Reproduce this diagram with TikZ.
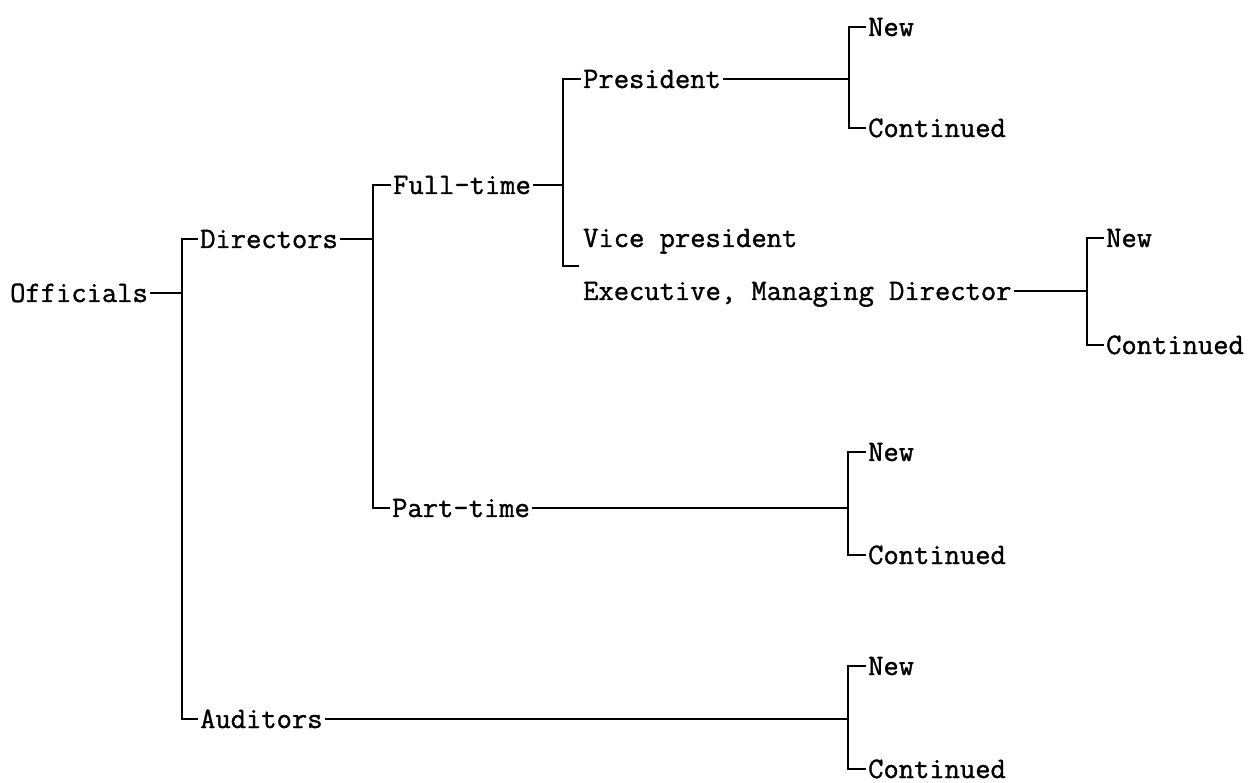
\documentclass[tikz,border=0pt]{standalone}
\usepackage{fontspec}
\newfontfamily\treefont{Latin Modern Mono}[FakeBold=1.2]
\begin{document}
\begin{tikzpicture}[x=1pt, y=-1pt,
  label/.style={anchor=west, inner xsep=2pt, inner ysep=0pt,
    font=\treefont\fontsize{29.7}{30}\selectfont,
    text height=18pt, text depth=0pt},
  link/.style={line width=1.6pt, line cap=butt}]
\useasboundingbox (0,0) rectangle (1251,783);

% labels, left to right
\node[label] (officials) at (8,293) {Officials};
\node[label] (directors) at (198,239) {Directors};
\node[label] (auditors)  at (198,719) {Auditors};
\node[label] (fulltime)  at (391,185) {Full-time};
\node[label] (parttime)  at (390,508) {Part-time};
\node[label] (president) at (581,79)  {President};
\node[label] (vice)      at (581,238) {Vice president};
\node[label] (exec)      at (581,291) {Executive, Managing Director};
\node[label] (newA)  at (866,27)   {New};
\node[label] (contA) at (866,128)  {Continued};
\node[label] (newB)  at (1104,238) {New};
\node[label] (contB) at (1104,345) {Continued};
\node[label] (newC)  at (866,452)  {New};
\node[label] (contC) at (866,555)  {Continued};
\node[label] (newD)  at (866,666)  {New};
\node[label] (contD) at (866,769)  {Continued};

% branching points
\coordinate (jOff)  at (182,293);
\coordinate (jDir)  at (373,239);
\coordinate (jFull) at (563,185);
\coordinate (jFullEnd) at (579,266);
\coordinate (jPres) at (849,79);
\coordinate (jExec) at (1087,291);
\coordinate (jPart) at (848,508);
\coordinate (jAud)  at (848,719);

% brackets
\draw[link] (officials.east) -- (jOff);
\draw[link] (directors.west) -| (jOff) |- (auditors.west);

\draw[link] (directors.east) -- (jDir);
\draw[link] (fulltime.west) -| (jDir) |- (parttime.west);

\draw[link] (fulltime.east) -- (jFull);
\draw[link] (president.west) -| (jFull) |- (jFullEnd);

\draw[link] (president.east) -- (jPres);
\draw[link] (newA.west) -| (jPres) |- (contA.west);

\draw[link] (exec.east) -- (jExec);
\draw[link] (newB.west) -| (jExec) |- (contB.west);

\draw[link] (parttime.east) -- (jPart);
\draw[link] (newC.west) -| (jPart) |- (contC.west);

\draw[link] (auditors.east) -- (jAud);
\draw[link] (newD.west) -| (jAud) |- (contD.west);
\end{tikzpicture}
\end{document}
